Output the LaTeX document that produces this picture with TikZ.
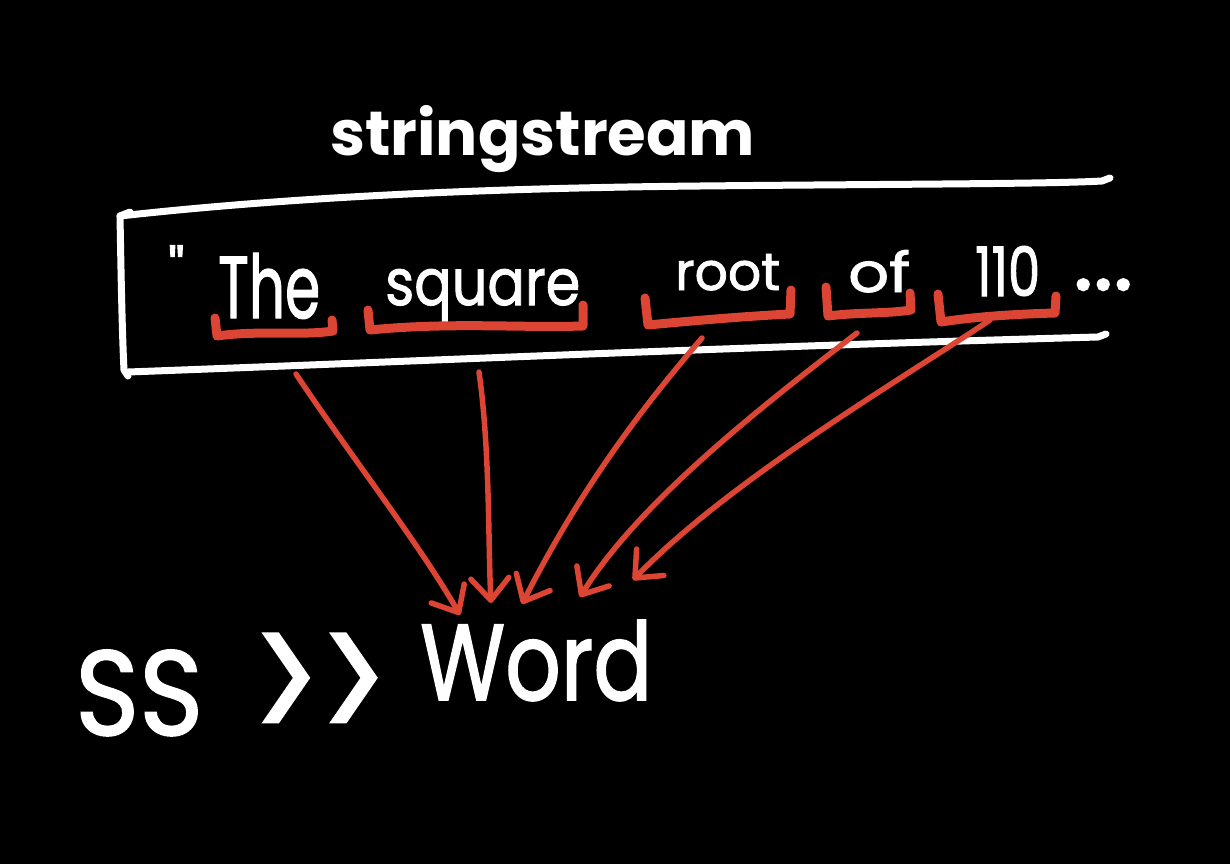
\documentclass[tikz,border=0pt]{standalone}
\usepackage{fontspec}
\setmainfont{Poppins}
\newfontfamily\inkfont{Poppins}[FakeBold=1.6]
\usetikzlibrary{arrows.meta}
\definecolor{redink}{HTML}{DC4534}
\begin{document}
\begin{tikzpicture}[x=1pt,y=-1pt,
  whiteink/.style={draw=white, line width=7pt, line cap=round, line join=round},
  redline/.style={draw=redink, line width=5.5pt, line cap=round, line join=round},
  bracket/.style={draw=redink, line width=9pt, line cap=round, line join=round},
  flow/.style={redline, -{Straight Barb[length=22pt,width=38pt,line width=5.5pt,round]}},
  word/.style={inner sep=0pt, anchor=base west, text=white, font=\bfseries},
  plainword/.style={inner sep=0pt, anchor=base west, text=white, font=\inkfont}]
\fill[black] (0,0) rectangle (1230,864);
\useasboundingbox (0,0) rectangle (1230,864);

% title
\node[word] (title) at (330,155) {\resizebox{425pt}{50pt}{stringstream}};

% stream box
\draw[whiteink] (130,212) -- (120,216) .. controls (121,270) and (122,330) .. (124,370) -- (128,376);
\draw[whiteink] (120,216) .. controls (300,196) and (500,188) .. (700,186) .. controls (900,184) and (1050,184) .. (1102,181) -- (1110,178);
\draw[whiteink] (128,372) .. controls (400,362) and (700,348) .. (1098,337) -- (1106,334);

% stream contents
\node[plainword, font=\inkfont\fontsize{56}{56}\selectfont] (quote) at (168,290) {"};
\node[plainword] (wThe) at (218,318) {\resizebox{102pt}{65pt}{The}};
\node[plainword] (wsquare) at (385,305) {\resizebox{195pt}{36pt}{square}};
\node[plainword] (wroot) at (675,290) {\resizebox{105pt}{36pt}{root}};
\node[plainword] (wof) at (848,292) {\resizebox{62pt}{42pt}{of}};
\node[plainword] (w110) at (975,296) {\resizebox{65pt}{50pt}{110}};
\node[plainword] (dots) at (1073,290) {\resizebox{60pt}{!}{...}};

% brackets
\draw[bracket] (215,318) -- (217,336) .. controls (260,330) and (300,336) .. (333,331) -- (332,320);
\draw[bracket] (368,310) -- (370,330) .. controls (450,322) and (520,328) .. (583,326) -- (583,305);
\draw[bracket] (645,298) -- (648,325) .. controls (700,320) and (750,316) .. (790,314) -- (791,290);
\draw[bracket] (826,287) -- (828,316) .. controls (860,312) and (885,314) .. (911,310) -- (910,293);
\draw[bracket] (938,294) -- (941,322) .. controls (980,316) and (1020,314) .. (1055,313) -- (1056,296);

% arrow ends
\coordinate (sThe) at (296,374);
\coordinate (ssquare) at (479,372);
\coordinate (sroot) at (702,338);
\coordinate (sof) at (857,333);
\coordinate (s110) at (990,320);
\coordinate (eThe) at (460,615);
\coordinate (esquare) at (491,603);
\coordinate (eroot) at (522,604);
\coordinate (eof) at (580,597);
\coordinate (e110) at (633,580);

\draw[flow] (sThe) .. controls (350,455) and (420,545) .. (eThe);
\draw[flow] (ssquare) .. controls (490,450) and (488,540) .. (esquare);
\draw[flow] (sroot) .. controls (640,410) and (580,490) .. (eroot);
\draw[flow] (sof) .. controls (770,400) and (640,500) .. (eof);
\draw[flow] (s110) .. controls (900,380) and (730,480) .. (e110);

% bottom expression
\node[plainword] (ss) at (75,735) {\resizebox{128pt}{85pt}{SS}};
\node[plainword] (shift) at (252,748) {\resizebox{135pt}{114pt}{{>}{>}}};
\node[plainword] (wWord) at (420,700) {\resizebox{232pt}{80pt}{Word}};
\end{tikzpicture}
\end{document}
